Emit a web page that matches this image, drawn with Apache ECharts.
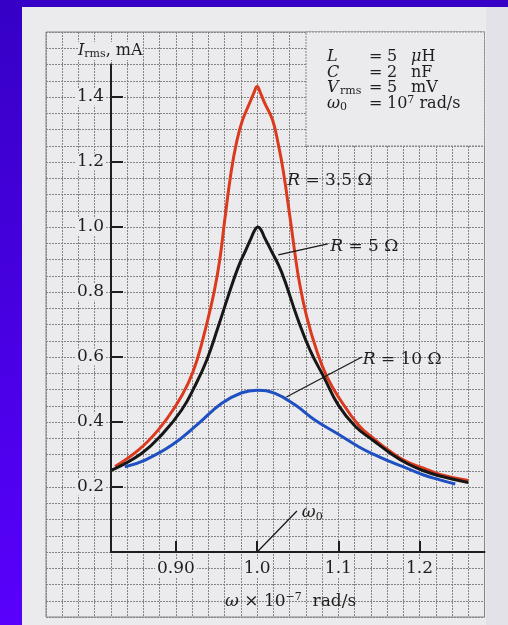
<!DOCTYPE html>
<html>
<head>
<meta charset="utf-8">
<script src="https://cdn.jsdelivr.net/npm/echarts@6/dist/echarts.min.js"></script>
<style>
  html, body { margin: 0; padding: 0; }
  #chart { width: 508px; height: 625px; }
</style>
</head>
<body>
<div id="chart"></div>
<script>
// frequency in units of 10^7 rad/s, current in mA
// R = 3.5 ohm
var redW = [0.825, 0.854, 0.878, 0.899, 0.915, 0.926, 0.937, 0.947, 0.954, 0.960, 0.968, 0.975, 0.982, 0.991, 0.996, 1.000, 1.004, 1.009, 1.019, 1.026, 1.032, 1.041, 1.047, 1.052, 1.061, 1.073, 1.086, 1.102, 1.125, 1.143, 1.164, 1.184, 1.205, 1.225, 1.260];
var redI = [0.263, 0.314, 0.375, 0.447, 0.519, 0.591, 0.693, 0.800, 0.900, 1.020, 1.170, 1.265, 1.329, 1.383, 1.413, 1.432, 1.413, 1.383, 1.329, 1.255, 1.175, 1.020, 0.910, 0.830, 0.724, 0.622, 0.539, 0.470, 0.390, 0.350, 0.309, 0.278, 0.258, 0.239, 0.220];
// R = 5 ohm
var blackW = [0.821, 0.858, 0.884, 0.907, 0.923, 0.938, 0.952, 0.964, 0.976, 0.986, 0.993, 0.997, 1.001, 1.005, 1.009, 1.017, 1.030, 1.049, 1.065, 1.082, 1.100, 1.121, 1.143, 1.164, 1.184, 1.205, 1.225, 1.260];
var blackI = [0.252, 0.304, 0.365, 0.437, 0.509, 0.591, 0.693, 0.785, 0.872, 0.929, 0.968, 0.990, 1.000, 0.990, 0.968, 0.929, 0.862, 0.724, 0.622, 0.539, 0.452, 0.386, 0.343, 0.304, 0.273, 0.250, 0.234, 0.214];
// R = 10 ohm
var blueW = [0.837, 0.862, 0.895, 0.928, 0.956, 0.981, 1.000, 1.022, 1.047, 1.071, 1.099, 1.125, 1.143, 1.164, 1.184, 1.205, 1.225, 1.244];
var blueI = [0.262, 0.283, 0.329, 0.396, 0.457, 0.490, 0.498, 0.488, 0.452, 0.406, 0.364, 0.324, 0.301, 0.278, 0.258, 0.237, 0.222, 0.209];

var xTickValues = [0.9, 1.0, 1.1, 1.2];
var xTickLabels = ['0.90', '1.0', '1.1', '1.2'];
var yTickValues = [0.2, 0.4, 0.6, 0.8, 1.0, 1.2, 1.4];
var yTickLabels = ['0.2', '0.4', '0.6', '0.8', '1.0', '1.2', '1.4'];

var serif = 'DejaVu Serif';
var ink = '#1e1e1e';
var paper = '#ebebed';
var gridInk = '#858585';

function pairs(xs, ys) {
  return xs.map(function (x, i) { return [x, ys[i]]; });
}
function pickLabel(values, labels, v) {
  var best = 0;
  values.forEach(function (t, i) {
    if (Math.abs(t - v) < Math.abs(values[best] - v)) best = i;
  });
  return labels[best];
}
function tok(size, italic, extra) {
  var s = { fontSize: size, fontFamily: serif, fontStyle: italic ? 'italic' : 'normal', fill: ink };
  for (var k in extra) s[k] = extra[k];
  return s;
}

var rich17 = {
  i: tok(17, true, { lineHeight: 20 }),
  t: tok(17, false, { lineHeight: 20 }),
  sub: tok(11, false, { lineHeight: 7, verticalAlign: 'bottom' }),
  sup: tok(11, false, { lineHeight: 7, verticalAlign: 'top' })
};
var rich16 = {
  i: tok(16, true, { lineHeight: 18 }),
  t: tok(16, false, { lineHeight: 18 }),
  sym: tok(16, true, { lineHeight: 18, width: 42 }),
  symv: tok(16, true, { lineHeight: 18, width: 13 }),
  symsub: tok(11, false, { lineHeight: 6, verticalAlign: 'bottom', width: 29 }),
  eq: tok(16, false, { lineHeight: 18, width: 18 }),
  num: tok(16, false, { lineHeight: 18, width: 24 }),
  num2: tok(16, false, { lineHeight: 18 }),
  sub: tok(11, false, { lineHeight: 6, verticalAlign: 'bottom' }),
  sup: tok(11, false, { lineHeight: 6, verticalAlign: 'top' })
};

// leader lines and curve labels, in data coordinates
var leaders = [
  { from: [1.026, 0.914], to: [1.087, 0.948] },
  { from: [1.036, 0.477], to: [1.129, 0.600] },
  { from: [1.000, 0.000], to: [1.049, 0.126] }
];
var curveLabels = [
  { at: [1.037, 1.142], text: '{i|R}{t| = 3.5 Ω}' },
  { at: [1.090, 0.939], text: '{i|R}{t| = 5 Ω}' },
  { at: [1.130, 0.591], text: '{i|R}{t| = 10 Ω}' },
  { at: [1.055, 0.120], text: '{i|ω}{sub|0}' }
];

var lineSeries = function (name, data, color) {
  return {
    name: name,
    type: 'line',
    xAxisIndex: 1,
    yAxisIndex: 1,
    data: data,
    smooth: 0.45,
    showSymbol: false,
    symbol: 'none',
    lineStyle: { color: color, width: 3 },
    z: 3
  };
};

var option = {
  animation: false,
  grid: [
    { left: 46, right: 23.5, top: 32, bottom: 8, show: true, borderColor: gridInk, borderWidth: 1 },
    { left: 111, right: 23.5, top: 64.5, bottom: 73 }
  ],
  xAxis: [
    {
      gridIndex: 0, type: 'value', min: 0.74, max: 1.28, interval: 0.02,
      axisLine: { show: false }, axisTick: { show: false }, axisLabel: { show: false },
      splitLine: { show: true, lineStyle: { color: gridInk, width: 1, type: [2, 1] } }
    },
    {
      gridIndex: 1, type: 'value', min: 0.82, max: 1.28,
      axisLine: { show: true, onZero: false, lineStyle: { color: '#1e1e1e', width: 2 } },
      axisTick: { show: true, inside: true, length: 11, customValues: xTickValues, lineStyle: { color: '#1e1e1e', width: 2 } },
      axisLabel: {
        customValues: xTickValues, margin: 8, fontSize: 17, fontFamily: serif, color: ink,
        backgroundColor: paper, padding: [0, 2],
        formatter: function (v) { return pickLabel(xTickValues, xTickLabels, v); }
      },
      splitLine: { show: false }
    }
  ],
  yAxis: [
    {
      gridIndex: 0, type: 'value', min: -0.2, max: 1.6, interval: 0.05,
      axisLine: { show: false }, axisTick: { show: false }, axisLabel: { show: false },
      splitLine: { show: true, lineStyle: { color: gridInk, width: 1, type: [2, 1] } }
    },
    {
      gridIndex: 1, type: 'value', min: 0, max: 1.5,
      axisLine: { show: true, onZero: false, lineStyle: { color: '#1e1e1e', width: 2 } },
      axisTick: { show: true, inside: true, length: 12, customValues: yTickValues, lineStyle: { color: '#1e1e1e', width: 2 } },
      axisLabel: {
        customValues: yTickValues, margin: 6, fontSize: 17, fontFamily: serif, color: ink,
        backgroundColor: paper, padding: [0, 1],
        formatter: function (v) { return pickLabel(yTickValues, yTickLabels, v); }
      },
      splitLine: { show: false }
    }
  ],
  series: [
    lineSeries('R = 3.5 Ω', pairs(redW, redI), '#dc3a1e'),
    lineSeries('R = 5 Ω', pairs(blackW, blackI), '#171717'),
    lineSeries('R = 10 Ω', pairs(blueW, blueI), '#1f50c2')
  ]
};

var chart = echarts.init(document.getElementById('chart'));
chart.setOption(option);

function px(p) {
  return chart.convertToPixel({ gridIndex: 1 }, p);
}

var graphics = [
  {
    type: 'rect', z: -20, silent: true,
    shape: { x: 0, y: 0, width: 508, height: 625 },
    style: { fill: new echarts.graphic.LinearGradient(0, 0, 0, 1, [
      { offset: 0, color: '#3600c6' }, { offset: 1, color: '#5800fc' }
    ]) }
  },
  { type: 'rect', z: -15, silent: true, shape: { x: 22, y: 7, width: 486, height: 618 }, style: { fill: paper } },
  { type: 'rect', z: -14, silent: true, shape: { x: 486, y: 7, width: 22, height: 618 }, style: { fill: '#e2e2e8' } },
  // parameter box
  {
    type: 'rect', z: 10, silent: true,
    shape: { x: 306, y: 32, width: 178.5, height: 114 },
    style: { fill: paper, stroke: gridInk, lineWidth: 1, lineDash: [2, 1] }
  },
  { type: 'text', z: 20, x: 327, y: 57, style: { text: '{sym|L}{eq|=}{num|5}{i|μ}{t|H}', rich: rich16, verticalAlign: 'middle' } },
  { type: 'text', z: 20, x: 327, y: 73, style: { text: '{sym|C}{eq|=}{num|2}{t|nF}', rich: rich16, verticalAlign: 'middle' } },
  { type: 'text', z: 20, x: 327, y: 88, style: { text: '{symv|V}{symsub|rms}{eq|=}{num|5}{t|mV}', rich: rich16, verticalAlign: 'middle' } },
  { type: 'text', z: 20, x: 327, y: 104, style: { text: '{symv|ω}{symsub|0}{eq|=}{num2|10}{sup|7}{t| rad/s}', rich: rich16, verticalAlign: 'middle' } },
  // axis titles
  { type: 'text', z: 20, x: 78, y: 51, style: { text: '{i|I}{sub|rms}{t|, mA}', rich: rich16, verticalAlign: 'middle', backgroundColor: paper } },
  { type: 'text', z: 20, x: 225, y: 602, style: { text: '{i|ω}{t| × 10}{sup|−7}{t|  rad/s}', rich: rich17, verticalAlign: 'middle' } }
];

leaders.forEach(function (l) {
  var a = px(l.from), b = px(l.to);
  graphics.push({
    type: 'line', z: 20, silent: true,
    shape: { x1: a[0], y1: a[1], x2: b[0], y2: b[1] },
    style: { stroke: '#1a1a1a', lineWidth: 1.3 }
  });
});
curveLabels.forEach(function (c) {
  var p = px(c.at);
  graphics.push({
    type: 'text', z: 20, x: p[0], y: p[1],
    style: { text: c.text, rich: rich17, verticalAlign: 'middle' }
  });
});

chart.setOption({ graphic: graphics });
</script>
</body>
</html>
